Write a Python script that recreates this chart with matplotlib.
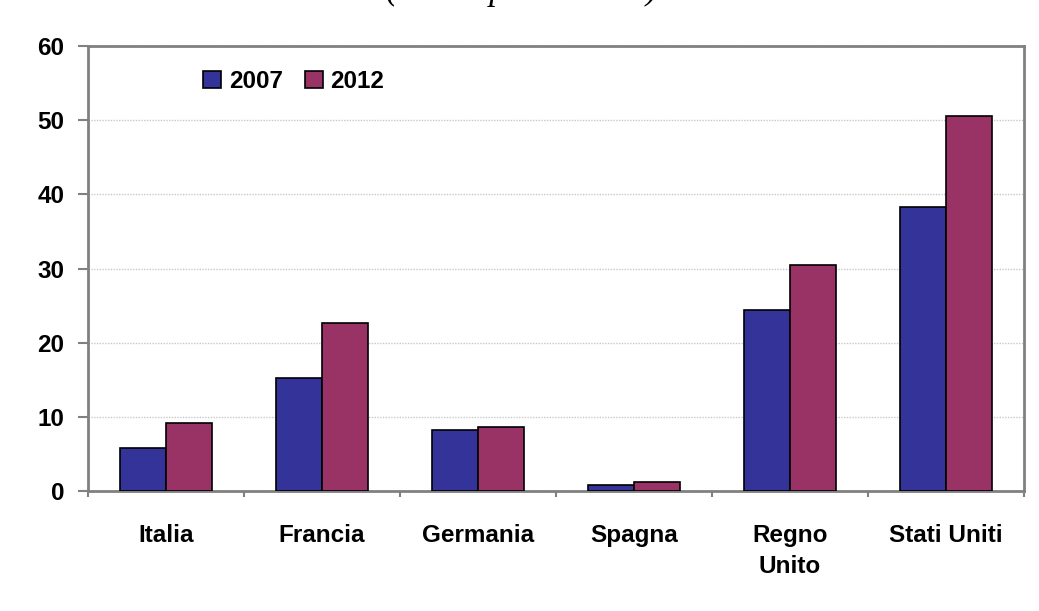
import matplotlib
matplotlib.use("Agg")
import matplotlib.pyplot as plt
import numpy as np

countries = ["Italia", "Francia", "Germania", "Spagna", "Regno\nUnito", "Stati Uniti"]
years = ["2007", "2012"]
vals_2007 = [5.8, 15.2, 8.2, 0.8, 24.4, 38.3]
vals_2012 = [9.2, 22.6, 8.6, 1.2, 30.5, 50.5]
yticks = [0, 10, 20, 30, 40, 50, 60]

BLUE = "#333399"
RED = "#993366"
FS = 17.5

plt.rcParams["font.family"] = ["Liberation Sans", "DejaVu Sans"]

fig = plt.figure(figsize=(10.39, 6.11), dpi=100)
ax = fig.add_axes([0.0847, 0.1964, 0.9009, 0.7283])

x = np.arange(len(countries))
w = 0.295
ax.bar(x - w / 2, vals_2007, w, color=BLUE, edgecolor="black", lw=1.2,
       label=years[0], zorder=3)
ax.bar(x + w / 2, vals_2012, w, color=RED, edgecolor="black", lw=1.2,
       label=years[1], zorder=3)

ax.set_xlim(-0.5, len(countries) - 0.5)
ax.set_ylim(0, 60)
ax.set_yticks(yticks)
ax.set_yticklabels([str(t) for t in yticks], fontsize=FS, fontweight="bold")
ax.yaxis.grid(True, color="#c8c8c8", ls=(0, (1, 1)), lw=1, zorder=0)

# category ticks at the boundaries, labels centered
ax.set_xticks(np.arange(len(countries) + 1) - 0.5)
ax.set_xticklabels([])
ax.set_xticks(x, minor=True)
ax.set_xticklabels(countries, minor=True, fontsize=FS, fontweight="bold",
                   linespacing=1.45, va="top")
ax.tick_params(axis="x", which="minor", length=0, pad=24)
ax.tick_params(axis="x", which="major", length=4.5, width=1.5, color="#808080")
ax.tick_params(axis="y", length=7, width=1.5, color="#808080", pad=10,
               direction="out")

for s in ax.spines.values():
    s.set_color("#808080")
    s.set_linewidth(2)

ax.legend(loc="center left", bbox_to_anchor=(0.110, 0.921), ncol=2, frameon=False,
          borderpad=0, handlelength=0.75, handleheight=0.7, handletextpad=0.3,
          columnspacing=0.9, prop={"weight": "bold", "size": FS})
for p in ax.get_legend().get_patches():
    p.set_edgecolor("black")

# cropped subtitle from the source page
fig.text(0.502, 1 + 1 / 611, "(valori percentuali)", ha="center", va="baseline",
         fontsize=25, style="italic", family=["Liberation Serif", "DejaVu Serif"])

fig.savefig("out.png", dpi=100)
